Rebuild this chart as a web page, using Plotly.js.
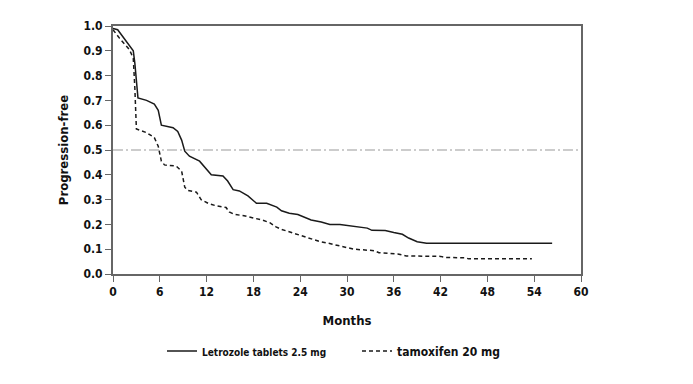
<!DOCTYPE html>
<html><head><meta charset="utf-8">
<script src="https://cdn.plot.ly/plotly-3.0.1.min.js"></script>
<style>html,body{margin:0;padding:0;background:#fff}#chart{width:693px;height:384px}</style>
</head><body><div id="chart"></div>
<script>
var letrozoleMonths = [0,0.6,2.6,2.8,3.2,4.3,5.3,5.8,6.2,7.7,8.3,8.8,9.2,9.8,11.1,11.8,12.6,14.1,14.7,15.4,16.2,17.3,18.4,19.7,21.0,21.6,22.6,23.7,24.4,25.4,26.7,27.8,29.1,30.9,32.6,33.2,34.9,36.0,37.1,37.9,39.0,40.2,56.3];
var letrozoleValues = [0.99,0.985,0.90,0.85,0.71,0.70,0.685,0.66,0.60,0.59,0.575,0.54,0.495,0.475,0.455,0.43,0.40,0.395,0.375,0.34,0.335,0.315,0.285,0.285,0.27,0.255,0.245,0.24,0.23,0.218,0.21,0.20,0.20,0.193,0.185,0.176,0.175,0.167,0.16,0.145,0.13,0.124,0.124];
var tamoxifenMonths = [0,0.85,2.1,2.6,2.8,3.0,4.3,5.3,5.8,6.2,6.6,8.1,8.8,9.2,9.6,10.7,11.3,12.2,13.2,14.5,14.9,15.6,16.8,17.9,19.2,20.1,20.9,21.6,22.6,23.7,24.5,25.4,26.5,27.6,28.6,30.1,30.9,33.5,34.1,36.5,37.6,42.0,42.6,45.2,45.6,53.7];
var tamoxifenValues = [0.985,0.95,0.905,0.87,0.75,0.585,0.57,0.55,0.515,0.455,0.44,0.435,0.415,0.35,0.337,0.33,0.30,0.285,0.275,0.268,0.25,0.24,0.235,0.228,0.217,0.207,0.19,0.18,0.17,0.16,0.15,0.141,0.131,0.124,0.117,0.104,0.10,0.094,0.086,0.081,0.073,0.071,0.067,0.065,0.061,0.061];
var medianLevel = 0.5;
var xTicks = [0,6,12,18,24,30,36,42,48,54,60];
var yTicks = [0,0.1,0.2,0.3,0.4,0.5,0.6,0.7,0.8,0.9,1.0];
var yTickLabels = ['0.0','0.1','0.2','0.3','0.4','0.5','0.6','0.7','0.8','0.9','1.0'];
var seriesNames = ['Letrozole tablets 2.5 mg','tamoxifen 20 mg'];

var FONT = '"Liberation Sans Narrow", "Arial Narrow", "DejaVu Sans Condensed", sans-serif';

var traces = [
  {x: letrozoleMonths, y: letrozoleValues, mode: 'lines', name: '<span style="font-size:10px">' + seriesNames[0] + '</span>',
   line: {color: '#1a1a1a', width: 1.5}},
  {x: tamoxifenMonths, y: tamoxifenValues, mode: 'lines', name: '<span style="font-size:12px">' + seriesNames[1] + '</span>',
   line: {color: '#1a1a1a', width: 1.5, dash: '4px,3px'}},
  {x: [0, 60], y: [medianLevel, medianLevel], mode: 'lines', showlegend: false, hoverinfo: 'skip',
   line: {color: '#999999', width: 1, dash: '10px,3px,2px,3px'}}
];

var layout = {
  width: 693, height: 384,
  margin: {l: 113, r: 112, t: 26, b: 110},
  paper_bgcolor: '#fff', plot_bgcolor: '#fff',
  font: {family: FONT, size: 12, color: '#111', weight: 'bold'},
  showlegend: true,
  legend: {orientation: 'h', x: 162/693, xanchor: 'left', y: 33/384, yanchor: 'middle',
           xref: 'container', yref: 'container',
           font: {family: FONT, size: 12, color: '#111', weight: 'bold'}, itemwidth: 30,
           entrywidth: 150, entrywidthmode: 'pixels', bgcolor: 'rgba(0,0,0,0)'},
  xaxis: {range: [0, 60], tickvals: xTicks, ticktext: xTicks.map(String), showgrid: false, zeroline: false,
          showline: true, linecolor: '#666', linewidth: 2, mirror: true,
          ticks: 'outside', ticklen: 6, tickwidth: 1, tickcolor: '#666',
          tickfont: {family: FONT, size: 12, weight: 'bold', color: '#111'},
          title: {text: 'Months', font: {family: FONT, size: 13, weight: 'bold', color: '#111'}, standoff: 17}},
  yaxis: {range: [0, 1.0], tickvals: yTicks, ticktext: yTickLabels, showgrid: false, zeroline: false,
          showline: true, linecolor: '#666', linewidth: 2, mirror: true,
          ticks: 'outside', ticklen: 6, tickwidth: 1, tickcolor: '#666',
          tickfont: {family: FONT, size: 12, weight: 'bold', color: '#111'},
          title: {text: 'Progression-free', font: {family: FONT, size: 13, weight: 'bold', color: '#111'}, standoff: 12}}
};

Plotly.newPlot('chart', traces, layout, {displayModeBar: false, staticPlot: true});
</script></body></html>
